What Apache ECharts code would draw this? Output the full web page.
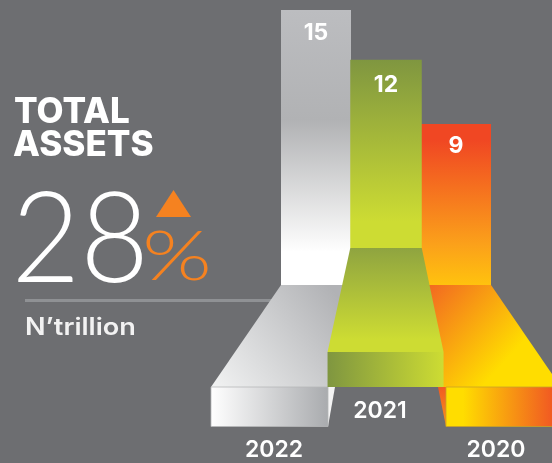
<!DOCTYPE html>
<html>
<head>
<meta charset="utf-8">
<style>html,body{margin:0;padding:0;background:#6d6e71}#chart{width:552px;height:463px}</style>
<script src="https://cdn.jsdelivr.net/npm/echarts@6/dist/echarts.min.js"></script>
</head>
<body>
<div id="chart"></div>
<script>
// Total assets by year, N'trillion
const years = ['2022', '2021', '2020'];
const totals = [15, 12, 9];
const axisFloor = 4.37;

const heading = ['TOTAL', 'ASSETS'];
const growth = '28';
const growthUnit = '%';
const unitNote = 'N\u2019trillion';

const linear = (x, y, x2, y2, stops) => new echarts.graphic.LinearGradient(
  x, y, x2, y2, stops.map(([offset, color]) => ({ offset, color })));

// Each column stands on a slanted platform with a front face, offset from the column's base.
const stages = [
  {
    width: 70, rise: 0, depth: 102, frontHeight: 39.5, spreadLeft: 70, spreadRight: -16, z: 1,
    label: { dx: 0, dy: 23 }, year: { x: 274, y: 450 },
    column: linear(0, 0, 0, 1, [[0, '#bcbdc0'], [0.4, '#b1b2b4'], [0.82, '#f5f5f5'], [0.88, '#ffffff'], [1, '#ffffff']]),
    deck: linear(1, 0, 0, 1, [[0.1, '#b1b2b5'], [1, '#f2f3f3']]),
    front: linear(0, 0, 1, 0, [[0, '#ffffff'], [1, '#a9abae']]),
    frontEdge: '#b6b7b9',
    sideFill: '#f4f4f4', sideEdge: 'right', frontInset: 7
  },
  {
    width: 71.5, rise: 37, depth: 104, frontHeight: 35, spreadLeft: 22.7, spreadRight: 21.8, z: 3,
    label: { dx: 0, dy: 25 }, year: { x: 380, y: 411.5 },
    column: linear(0, 0, 0, 1, [[0, '#7f9640'], [0.86, '#cddc33'], [1, '#cddc33']]),
    deck: linear(0, 0, 0, 1, [[0, '#8fa440'], [0.88, '#cddc33'], [1, '#cddc33']]),
    front: linear(0, 0, 1, 0, [[0, '#7f9640'], [1, '#cddc33']])
  },
  {
    width: 70, rise: 0, depth: 102, frontHeight: 39.5, spreadLeft: -17, spreadRight: 70, z: 2,
    label: { dx: 0, dy: 22 }, year: { x: 496, y: 450 },
    column: linear(0, 0, 0, 1, [[0, '#f04723'], [0.1, '#f04723'], [0.75, '#fba11a'], [1, '#ffc20e']]),
    deck: linear(0, 0, 0.8, 1, [[0.02, '#f26522'], [0.75, '#ffdd00'], [1, '#ffdd00']]),
    front: linear(0, 0, 1, 0, [[0.15, '#ffdd00'], [0.92, '#f15a22'], [1, '#f15a22']]),
    frontEdge: '#c9a227',
    sideFill: linear(0, 0, 1, 1, [[0, '#f15a22'], [1, '#f7941d']]), sideEdge: 'left', frontInset: 8
  }
];

function drawColumn(params, api) {
  const i = params.dataIndex;
  const stage = stages[i];
  const value = api.value(1);
  const top = api.coord([i, value]);
  const base = api.coord([i, axisFloor]);
  const w = stage.width;
  const left = top[0] - w / 2;
  const right = left + w;
  const deckTop = base[1] - stage.rise;
  const deckBottom = deckTop + stage.depth;
  const frontBottom = deckBottom + stage.frontHeight;
  const deckLeft = left - stage.spreadLeft;
  const deckRight = right + stage.spreadRight;
  const children = [];

  children.push({
    type: 'rect', z2: stage.z,
    shape: { x: left, y: top[1], width: w, height: deckTop - top[1] },
    style: { fill: stage.column }
  });
  children.push({
    type: 'polygon', z2: stage.z,
    shape: { points: [[left, deckTop], [right, deckTop], [deckRight, deckBottom], [deckLeft, deckBottom]] },
    style: { fill: stage.deck }
  });

  let frontLeft = deckLeft;
  let frontRight = deckRight;
  if (stage.sideEdge === 'right') {
    frontRight = deckRight - stage.frontInset;
    children.push({
      type: 'polygon', z2: stage.z,
      shape: { points: [[frontRight, deckBottom], [deckRight, deckBottom], [frontRight, frontBottom]] },
      style: { fill: stage.sideFill }
    });
  } else if (stage.sideEdge === 'left') {
    frontLeft = deckLeft + stage.frontInset;
    children.push({
      type: 'polygon', z2: stage.z,
      shape: { points: [[frontLeft, deckBottom], [deckLeft, deckBottom], [frontLeft, frontBottom]] },
      style: { fill: stage.sideFill }
    });
  }
  children.push({
    type: 'rect', z2: stage.z,
    shape: { x: frontLeft, y: deckBottom, width: frontRight - frontLeft, height: frontBottom - deckBottom },
    style: { fill: stage.front, stroke: stage.frontEdge || null, lineWidth: 0.8 }
  });

  children.push({
    type: 'text', z2: 10,
    style: {
      x: top[0] + stage.label.dx, y: top[1] + stage.label.dy,
      text: String(value), fill: '#ffffff',
      font: '700 23px Inter', align: 'center', verticalAlign: 'middle'
    }
  });
  children.push({
    type: 'text', z2: 10,
    style: {
      x: stage.year.x, y: stage.year.y,
      text: years[i], fill: '#ffffff',
      font: '600 23px Inter', align: 'center', verticalAlign: 'middle'
    }
  });
  return { type: 'group', children };
}

const chart = echarts.init(document.getElementById('chart'), null, { renderer: 'canvas' });
chart.setOption({
  backgroundColor: '#6d6e71',
  animation: false,
  grid: { left: 281, right: 61, top: 10, bottom: 178 },
  xAxis: { type: 'category', data: years, show: false },
  yAxis: { type: 'log', min: axisFloor, max: 15, show: false },
  series: [{
    type: 'custom',
    coordinateSystem: 'cartesian2d',
    renderItem: drawColumn,
    encode: { x: 0, y: 1 },
    data: totals.map((t, i) => [i, t])
  }],
  graphic: [
    { type: 'text', x: 14, y: 95, style: { text: heading[0], fill: '#fff', font: '800 35px Inter' } },
    { type: 'text', x: 13, y: 128, style: { text: heading[1], fill: '#fff', font: '800 35px Inter' } },
    { type: 'text', x: 11.5, y: 178, scaleX: 0.94, style: { text: growth, fill: '#fff', font: '300 126px Lato' } },
    { type: 'text', x: 142, y: 224, scaleX: 1.32, style: { text: growthUnit, fill: '#f58220', font: '300 68px Lato' } },
    { type: 'polygon', shape: { points: [[173.5, 190], [191, 217], [156, 217]] }, style: { fill: '#f58220' } },
    { type: 'rect', shape: { x: 25, y: 299, width: 250, height: 3 }, style: { fill: '#8f9194' } },
    { type: 'text', x: 25, y: 316, scaleX: 1.13, style: { text: unitNote, fill: '#f2f2f2', font: '600 24px Inter' } }
  ]
});
</script>
</body>
</html>
